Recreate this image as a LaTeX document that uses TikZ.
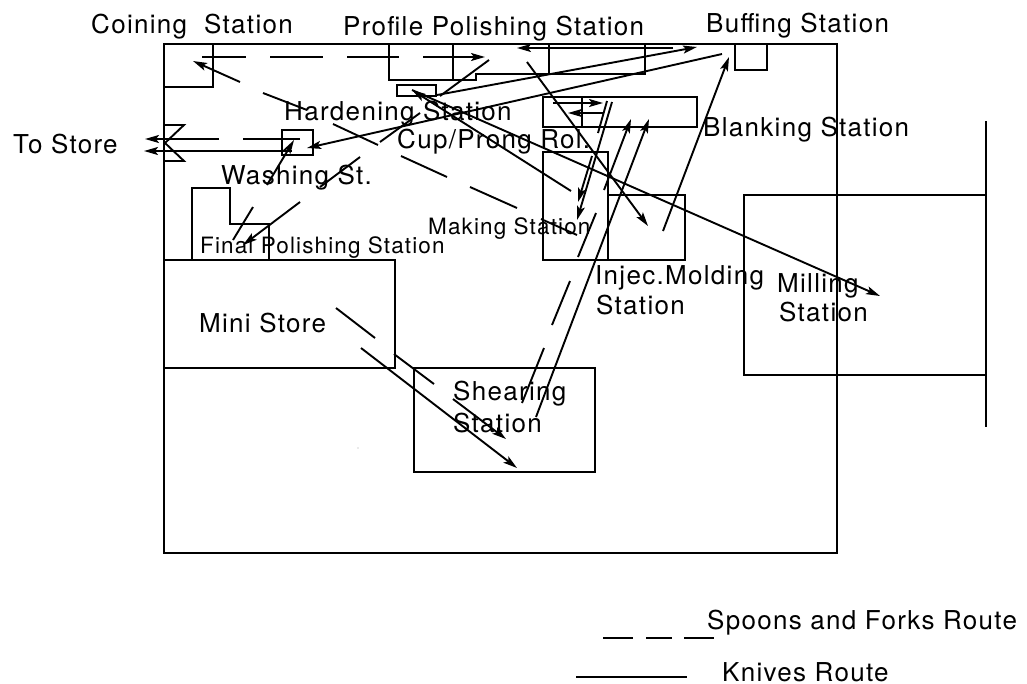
\documentclass[tikz,border=0pt]{standalone}
\usepackage{fontspec}
\setmainfont[LetterSpace=5]{TeX Gyre Heros}
\usetikzlibrary{arrows.meta}
\tikzset{
  x=1pt,y=-1pt,
  wall/.style={draw=black,line width=1.9pt,line join=miter},
  route/.style={draw=black,line width=1.9pt},
  arr/.style={route,-{Stealth[length=14pt,width=8pt,inset=3pt]}},
  lab/.style={inner sep=0pt,anchor=base west,text=black,font=\fontsize{26}{26}\selectfont},
  labs/.style={lab,font=\fontsize{22.5}{23}\selectfont},
}
\begin{document}
\begin{tikzpicture}
\useasboundingbox (0,0) rectangle (1027,683);
% building
\draw[wall] (164,44) rectangle (837,553);
\draw[wall] (164,87) -- (213,87) -- (213,44);
\draw[wall] (389,44) -- (389,80) -- (476,80) -- (476,74) -- (645,74) -- (645,44);
\draw[wall] (453,44) -- (453,80);
\draw[wall] (549,44) -- (549,74);
\draw[wall] (397,85) rectangle (436,96);
\draw[wall] (735,44) rectangle (767,70);
\draw[wall] (543,97) rectangle (697,127);
\draw[wall] (582,97) -- (582,127);
\draw[wall] (543,152) rectangle (608,260);
\draw[wall] (608,195) rectangle (685,260);
\draw[wall] (986,195) -- (744,195) -- (744,375) -- (986,375);
\draw[wall] (986,121) -- (986,427);
\draw[wall] (164,260) -- (395,260) -- (395,368) -- (164,368);
\draw[wall] (414,368) rectangle (595,472);
\draw[wall] (192,260) -- (192,188) -- (230,188) -- (230,224) -- (269,224) -- (269,260);
\draw[wall] (164,125) -- (184,125) -- (165,143) -- (184,161) -- (164,161);
\draw[wall] (282,130) rectangle (313,155);
\fill (358,448) circle (0.4);
% routes
\draw[route] (202,57) -- (246,57);
\draw[route] (270,57) -- (323,57);
\draw[route] (347,57) -- (399,57);
\draw[arr] (423,57) -- (485,57);
\draw[arr] (673,48) -- (517,48);
\draw[arr] (437,95) -- (697,47);
\draw[route] (489,60) -- (440,96);
\draw[route] (420,113) -- (380,142);
\draw[route] (360,157) -- (320,187);
\draw[arr] (300,202) -- (243,245);
\draw[route] (253,207) -- (233,240);
\draw[arr] (267,185) -- (294,140);
\draw[route] (300,139) -- (243,139);
\draw[arr] (219,139) -- (145,139);
\draw[arr] (292,151) -- (144,151);
\draw[arr] (722,54) -- (307,148);
\draw[arr] (571,191) -- (412,90);
\draw[arr] (412,90) -- (880,296);
\draw[route] (577,235) -- (541,219);
\draw[route] (517,208) -- (470,187);
\draw[route] (447,177) -- (401,156);
\draw[route] (378,145) -- (333,124);
\draw[route] (307,110) -- (263,93);
\draw[arr] (240,82) -- (193,61);
\draw[arr] (553,103) -- (603,103);
\draw[arr] (603,113) -- (568,113);
\draw[route] (607,101) -- (598,133);
\draw[arr] (592,156) -- (578,202);
\draw[arr] (612,102) -- (577,220);
\draw[arr] (527,62) -- (648,226);
\draw[arr] (663,231) -- (729,57);
\draw[arr] (536,417) -- (649,119);
\draw[route] (522,403) -- (544,348);
\draw[route] (552,325) -- (570,281);
\draw[route] (578,257) -- (596,213);
\draw[arr] (604,190) -- (631,119);
\draw[route] (336,308) -- (375,338);
\draw[route] (394,354) -- (434,384);
\draw[arr] (453,399) -- (506,439);
\draw[arr] (361,348) -- (517,468);
% legend
\draw[route] (603,638) -- (633,638);
\draw[route] (646,638) -- (672,638);
\draw[route] (684,638) -- (714,638);
\draw[route] (576,677) -- (687,677);
% labels
\node[lab] (t1) at (91,33) {Coining~ Station};
\node[lab] (t2) at (343,35) {Profile Polishing Station};
\node[lab] (t3) at (706,32) {Buffing Station};
\node[lab] (t4) at (284,120) {Hardening Station};
\node[lab] (t5) at (397,148) {Cup/Prong Rol.};
\node[lab] (t6) at (703,136) {Blanking Station};
\node[lab] (t7) at (13,153) {To Store};
\node[lab] (t8) at (221,184) {Washing St.};
\node[labs] (t9) at (428,234) {Making Station};
\node[labs] (t10) at (200,253) {Final Polishing Station};
\node[lab] (t11) at (595,284) {Injec.Molding};
\node[lab] (t12) at (596,314) {Station};
\node[lab] (t13) at (777,292) {Milling};
\node[lab] (t14) at (779,321) {Station};
\node[lab] (t15) at (199,332) {Mini Store};
\node[lab] (t16) at (453,400) {Shearing};
\node[lab] (t17) at (453,432) {Station};
\node[lab] (t18) at (707,629) {Spoons and Forks Route};
\node[lab] (t19) at (722,681) {Knives Route};
\end{tikzpicture}
\end{document}
